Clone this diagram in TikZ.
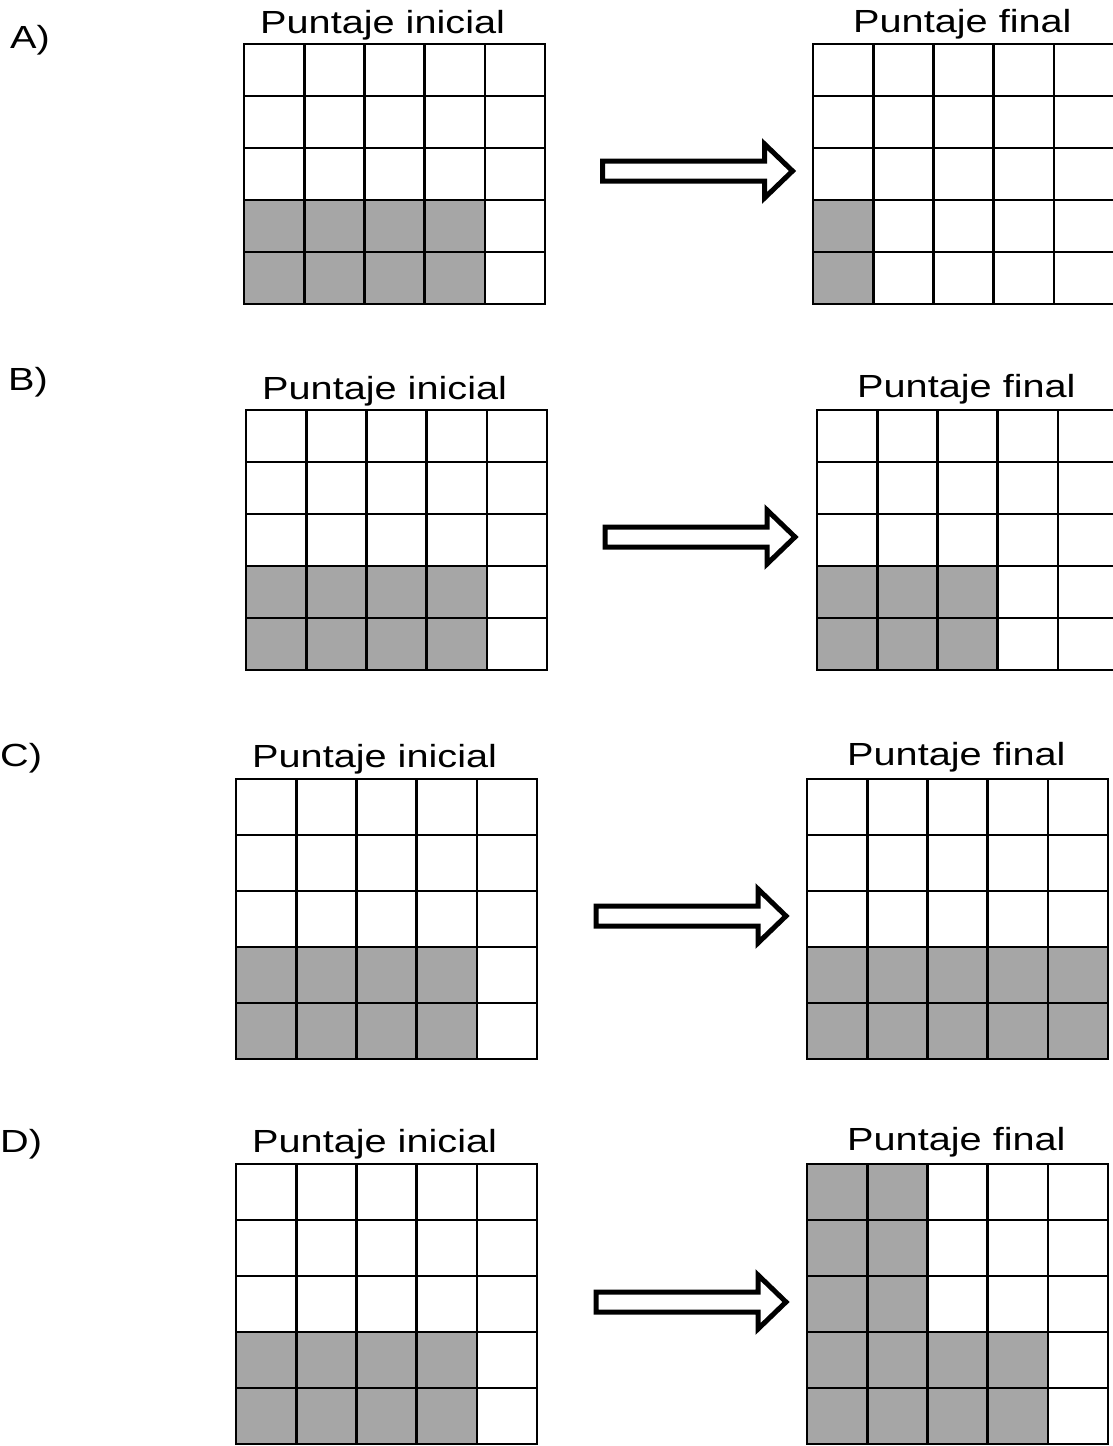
\documentclass[tikz,border=0pt]{standalone}
\usepackage{fontspec}
\usepackage{graphicx}
\setmainfont{Liberation Sans}
\definecolor{cellgray}{HTML}{A6A6A6}
\tikzset{
  gline/.style={line width=2.6pt, black, line cap=rect},
  shade/.style={fill=cellgray},
  arr/.style={line width=5pt, black, fill=white, line join=miter, miter limit=10},
  lbl/.style={inner sep=0pt, anchor=base west, font=\fontsize{32}{38}\selectfont},
}
\newcommand\cellfill[5]{%
  \foreach \c/\r in {#5} {\fill[shade] ({#1+(\c-1)*#3},{-#2-(\r-1)*#4}) rectangle ++(#3,-#4);}}
\newcommand\gridlines[4]{%
  \foreach \i in {0,...,5} {%
    \draw[gline] ({#1+\i*#3},{-#2}) -- ++(0,{-5*#4});
    \draw[gline] ({#1},{-#2-\i*#4}) -- ++({5*#3},0);}}
\newcommand\parrow[2]{%
  \draw[arr] (#1,{-#2+10}) -- ({#1+162},{-#2+10}) -- ({#1+162},{-#2+27}) -- ({#1+190},{-#2})
    -- ({#1+162},{-#2-27}) -- ({#1+162},{-#2-10}) -- (#1,{-#2-10}) -- cycle;}
\newcommand\stx[1]{\scalebox{1.24}[1]{#1}}
\begin{document}
\begin{tikzpicture}[x=1pt,y=1pt]
\useasboundingbox[fill=white] (0,0) rectangle (1113,-1446);
% ---- A ----
\node[lbl] (la) at (10,-48) {\stx{A)}};
\node[lbl] (tai) at (260,-33) {\stx{Puntaje inicial}};
\node[lbl] (taf) at (853,-32) {\stx{Puntaje final}};
\cellfill{244}{44}{60.2}{52}{1/4,2/4,3/4,4/4,1/5,2/5,3/5,4/5}
\gridlines{244}{44}{60.2}{52}
\cellfill{813}{44}{60.2}{52}{1/4,1/5}
\gridlines{813}{44}{60.2}{52}
\parrow{602.5}{171}
% ---- B ----
\node[lbl] (lb) at (8,-390) {\stx{B)}};
\node[lbl] (tbi) at (262,-399) {\stx{Puntaje inicial}};
\node[lbl] (tbf) at (857,-397) {\stx{Puntaje final}};
\cellfill{246}{410}{60.2}{52}{1/4,2/4,3/4,4/4,1/5,2/5,3/5,4/5}
\gridlines{246}{410}{60.2}{52}
\cellfill{817}{410}{60.2}{52}{1/4,2/4,3/4,1/5,2/5,3/5}
\gridlines{817}{410}{60.2}{52}
\parrow{605}{537}
% ---- C ----
\node[lbl] (lc) at (0,-766) {\stx{C)}};
\node[lbl] (tci) at (252,-767) {\stx{Puntaje inicial}};
\node[lbl] (tcf) at (847,-765) {\stx{Puntaje final}};
\cellfill{236}{779}{60.2}{56}{1/4,2/4,3/4,4/4,1/5,2/5,3/5,4/5}
\gridlines{236}{779}{60.2}{56}
\cellfill{807}{779}{60.2}{56}{1/4,2/4,3/4,4/4,5/4,1/5,2/5,3/5,4/5,5/5}
\gridlines{807}{779}{60.2}{56}
\parrow{596}{916}
% ---- D ----
\node[lbl] (ld) at (0,-1152) {\stx{D)}};
\node[lbl] (tdi) at (252,-1152) {\stx{Puntaje inicial}};
\node[lbl] (tdf) at (847,-1150) {\stx{Puntaje final}};
\cellfill{236}{1164}{60.2}{56}{1/4,2/4,3/4,4/4,1/5,2/5,3/5,4/5}
\gridlines{236}{1164}{60.2}{56}
\cellfill{807}{1164}{60.2}{56}{1/1,2/1,1/2,2/2,1/3,2/3,1/4,2/4,3/4,4/4,1/5,2/5,3/5,4/5}
\gridlines{807}{1164}{60.2}{56}
\parrow{596}{1302}
\end{tikzpicture}
\end{document}
